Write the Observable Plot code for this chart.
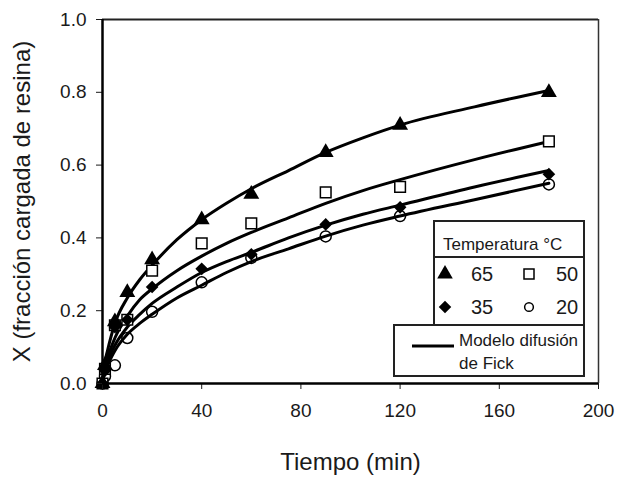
<!DOCTYPE html>
<html><head><meta charset="utf-8">
<script src="https://cdn.jsdelivr.net/npm/d3@7"></script>
<script src="https://cdn.jsdelivr.net/npm/@observablehq/plot@0.6"></script>
<style>
body{margin:0;background:#fff;}
#chart{width:628px;height:479px;}
</style></head><body><div id="chart"></div>
<script>
// Experimental data (time in min, X fraction)
const times = [0, 1, 5, 10, 20, 40, 60, 90, 120, 180];
const x65 = [0, 0.05, 0.17, 0.25, 0.34, 0.45, 0.52, 0.635, 0.71, 0.80];
const x50 = [0, 0.04, 0.16, 0.175, 0.31, 0.385, 0.44, 0.525, 0.54, 0.665];
const x35 = [0, 0.035, 0.155, 0.175, 0.265, 0.315, 0.355, 0.437, 0.484, 0.575];
const x20 = [0, 0.02, 0.05, 0.125, 0.197, 0.278, 0.345, 0.404, 0.46, 0.547];

// Fick diffusion model curves
const modelTimes = [0, 1, 2, 5, 10, 15, 20, 30, 40, 50, 60, 75, 90, 105, 120, 150, 180];
const m65 = [0, 0.06, 0.09, 0.165, 0.235, 0.285, 0.325, 0.395, 0.45, 0.495, 0.535, 0.585, 0.635, 0.675, 0.71, 0.76, 0.805];
const m50 = [0, 0.045, 0.07, 0.125, 0.185, 0.23, 0.26, 0.31, 0.35, 0.385, 0.415, 0.455, 0.495, 0.53, 0.56, 0.615, 0.665];
const m35 = [0, 0.04, 0.06, 0.105, 0.155, 0.19, 0.22, 0.265, 0.305, 0.335, 0.36, 0.40, 0.435, 0.465, 0.49, 0.54, 0.585];
const m20 = [0, 0.035, 0.05, 0.09, 0.135, 0.165, 0.19, 0.235, 0.27, 0.305, 0.335, 0.37, 0.405, 0.435, 0.46, 0.505, 0.55];

const seriesNames = ["65", "50", "35", "20"];
const xTicks = [0, 40, 80, 120, 160, 200];
const yTicks = [0, 0.2, 0.4, 0.6, 0.8, 1.0];
const xLabel = "Tiempo (min)";
const yLabel = "X (fracción cargada de resina)";
const legendTitle = "Temperatura °C";
const modelLabel = ["Modelo difusión", "de Fick"];

const pointSets = {"65": x65, "50": x50, "35": x35, "20": x20};
const modelSets = {"65": m65, "50": m50, "35": m35, "20": m20};
const points = seriesNames.flatMap(s => times.map((t, i) => ({serie: s, t, v: pointSets[s][i]})));
const curves = seriesNames.flatMap(s => modelTimes.map((t, i) => ({serie: s, t, v: modelSets[s][i]})));
const ps = s => points.filter(d => d.serie === s);

const FONT = "'Liberation Sans', Arial, sans-serif";
const INK = "#1a1a1a";

const plot = Plot.plot({
  width: 628, height: 479,
  marginLeft: 102, marginRight: 30, marginTop: 19, marginBottom: 96,
  style: {fontFamily: FONT, fontSize: "19px", color: INK, background: "#fff", overflow: "visible"},
  x: {domain: [0, 200]},
  y: {domain: [0, 1]},
  marks: [
    Plot.ruleY([1], {stroke: "#222", strokeWidth: 2}),
    Plot.ruleX([200], {stroke: "#333", strokeWidth: 1.5}),
    Plot.line(curves, {x: "t", y: "v", z: "serie", stroke: "black", strokeWidth: 3, curve: "monotone-x"}),
    Plot.dot(ps("20"), {x: "t", y: "v", symbol: "circle", r: 5.5, fill: "none", stroke: "black", strokeWidth: 1.5}),
    Plot.dot(ps("50"), {x: "t", y: "v", symbol: "square", r: 6, fill: "white", stroke: "black", strokeWidth: 1.5}),
    Plot.dot(ps("35"), {x: "t", y: "v", symbol: "diamond2", r: 5.7, fill: "black", stroke: "none"}),
    Plot.dot(ps("65"), {x: "t", y: "v", symbol: "triangle", r: 5.9, fill: "black", stroke: "none"}),
    Plot.axisY({ticks: yTicks, tickFormat: d3.format(".1f"), tickSize: 6, tickPadding: 10, fontSize: 19, label: null}),
    Plot.axisX({ticks: xTicks, tickSize: 6, tickPadding: 14, fontSize: 19, label: null}),
    Plot.ruleX([0], {stroke: "black", strokeWidth: 2.5}),
    Plot.ruleY([0], {stroke: "black", strokeWidth: 2.5}),
    Plot.text([yLabel], {frameAnchor: "left", textAnchor: "middle", rotate: -90, dx: -80, fontSize: 24, fill: INK}),
    Plot.text([xLabel], {frameAnchor: "bottom", textAnchor: "middle", dy: 86, fontSize: 24, fill: INK})
  ]
});
document.getElementById("chart").appendChild(plot);

// Legend drawn inside the SVG
const svg = d3.select(plot);
const g = svg.append("g").attr("font-family", FONT).attr("fill", INK).attr("text-anchor", "start");
g.append("rect").attr("x", 434).attr("y", 221).attr("width", 150).attr("height", 104)
  .attr("fill", "white").attr("stroke", "#222").attr("stroke-width", 2);
g.append("line").attr("x1", 434).attr("x2", 584).attr("y1", 257).attr("y2", 257)
  .attr("stroke", "#222").attr("stroke-width", 2);
g.append("text").attr("x", 443).attr("y", 250).attr("font-size", 17).attr("text-anchor", "start").text(legendTitle);
const sym = (type, size) => d3.symbol().type(type).size(size)();
const legendItems = [
  {name: "65", type: d3.symbolTriangle, size: 105, fill: "black", stroke: "none", sx: 445, tx: 482, y: 274},
  {name: "50", type: d3.symbolSquare, size: 100, fill: "white", stroke: "black", sx: 529, tx: 567, y: 274},
  {name: "35", type: d3.symbolDiamond2, size: 100, fill: "black", stroke: "none", sx: 445, tx: 482, y: 307},
  {name: "20", type: d3.symbolCircle, size: 60, fill: "none", stroke: "black", sx: 529, tx: 567, y: 307}
];
for (const it of legendItems) {
  g.append("path").attr("d", sym(it.type, it.size)).attr("transform", `translate(${it.sx},${it.y})`)
    .attr("fill", it.fill).attr("stroke", it.stroke).attr("stroke-width", 1.5);
  g.append("text").attr("x", it.tx).attr("y", it.y + 7).attr("font-size", 20)
    .attr("text-anchor", "middle").text(it.name);
}
g.append("rect").attr("x", 394).attr("y", 325).attr("width", 190).attr("height", 51)
  .attr("fill", "white").attr("stroke", "#222").attr("stroke-width", 2);
g.append("line").attr("x1", 412).attr("x2", 454).attr("y1", 346).attr("y2", 346)
  .attr("stroke", "black").attr("stroke-width", 3);
g.append("text").attr("x", 459).attr("y", 346).attr("font-size", 17).attr("text-anchor", "start").text(modelLabel[0]);
g.append("text").attr("x", 459).attr("y", 369).attr("font-size", 17).attr("text-anchor", "start").text(modelLabel[1]);
</script>
</body></html>
